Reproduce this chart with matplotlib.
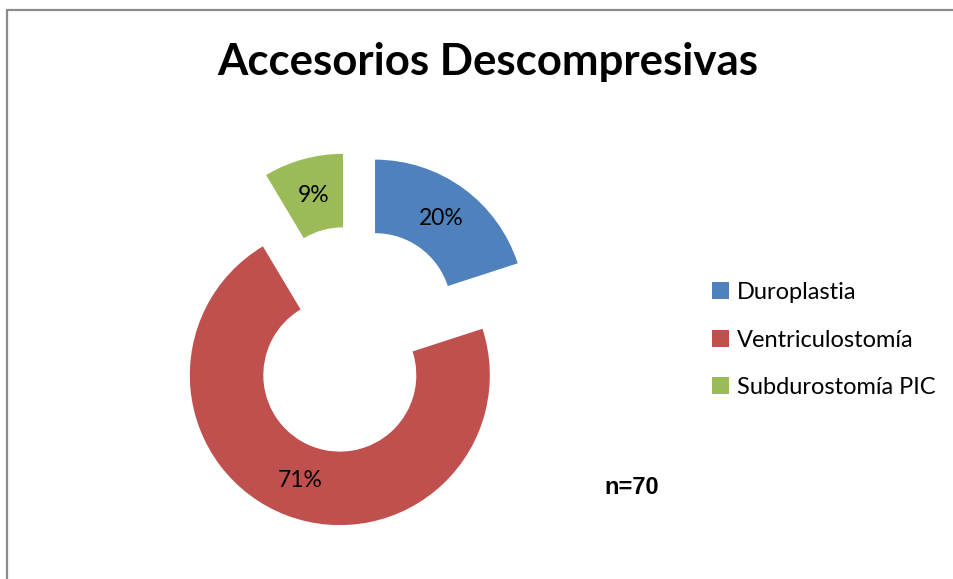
import matplotlib

matplotlib.use("Agg")
import matplotlib.pyplot as plt
from matplotlib.patches import Rectangle

labels = ["Duroplastia", "Ventriculostomía", "Subdurostomía PIC"]
counts = [14, 50, 6]
colors = ["#4F81BD", "#C0504D", "#9BBB59"]
title = "Accesorios Descompresivas"
note = "n=70"

W, H = 954, 579
fig = plt.figure(figsize=(W / 100, H / 100), dpi=100)
plt.rcParams["font.family"] = ["Lato", "DejaVu Sans"]

# chart-area border (only left/top are visible in the crop)
fig.patches.append(Rectangle((7 / W, -0.1), 1.2, (H - 10) / H + 0.1,
                             transform=fig.transFigure, fill=False,
                             edgecolor="#8c8c8c", linewidth=1.6))

# pie centred at (353, 340) px, radius 150 px
size = 400
ax = fig.add_axes([(353 - size / 2) / W, (H - 340 - size / 2) / H, size / W, size / H])
wedges, _, autotexts = ax.pie(
    counts, colors=colors, startangle=90, counterclock=False,
    explode=[0.25] * len(counts), radius=1.0,
    wedgeprops=dict(width=0.49, linewidth=0),
    autopct=lambda p: f"{p:.0f}%", pctdistance=0.75,
    textprops=dict(fontsize=16.5, color="black"),
)
lim = size / 2 / 150
ax.set_xlim(-lim, lim)
ax.set_ylim(-lim, lim)
ax.set_aspect("equal")
ax.axis("off")

fig.text(488 / W, 1 - 62 / H, title, ha="center", va="center",
         fontsize=31.5, fontweight="bold")
fig.text(632 / W, 1 - 488 / H, note, ha="center", va="center",
         fontsize=17, fontweight="bold", family="Liberation Sans")

fig.legend(wedges, labels, loc="center left", bbox_to_anchor=(703 / W, 1 - 340 / H),
           frameon=False, fontsize=17, handlelength=0.72, handleheight=0.72,
           handletextpad=0.3, labelspacing=1.12, borderaxespad=0)

fig.savefig("out.png", dpi=100)
